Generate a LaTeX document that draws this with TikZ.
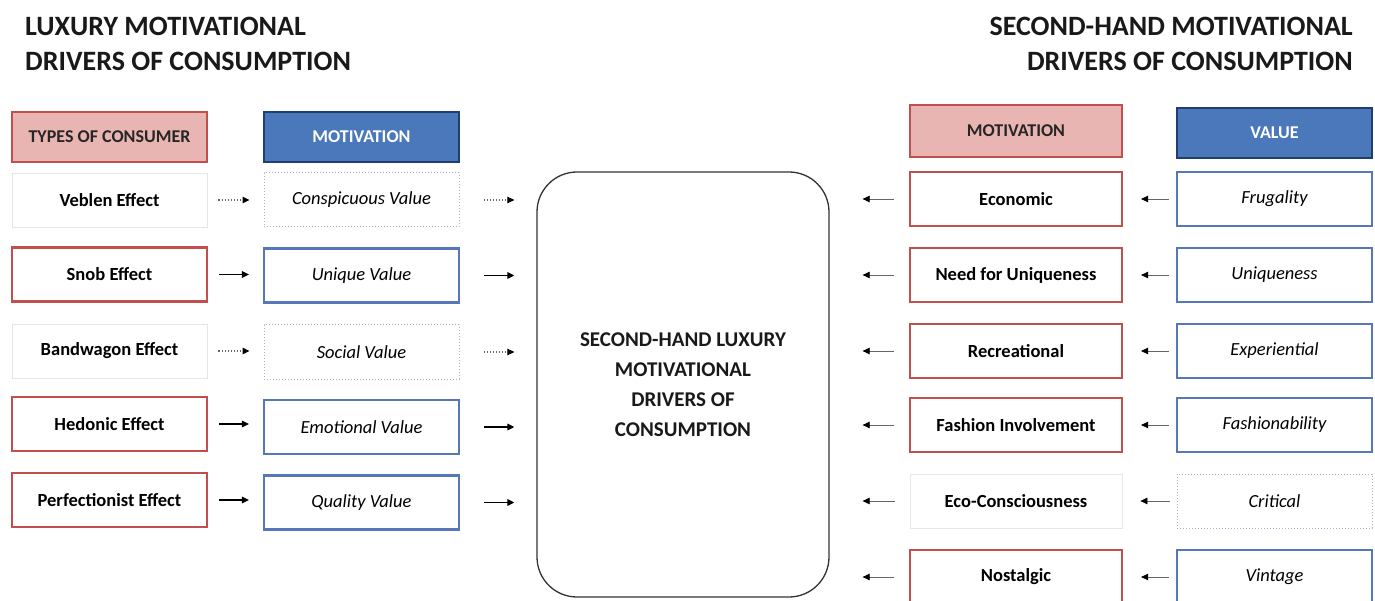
\documentclass[tikz,border=0pt]{standalone}
\usepackage{fontspec}
\setmainfont{Carlito}
\usetikzlibrary{arrows.meta}
\definecolor{boxred}{HTML}{C0504D}
\definecolor{pinkfill}{HTML}{E9B5B3}
\definecolor{bluefill}{HTML}{4A78BA}
\definecolor{darkblue}{HTML}{1F3F73}
\definecolor{boxblue}{HTML}{5677BC}
\definecolor{faint}{HTML}{E6E6E6}
\definecolor{faintblue}{HTML}{A8B4D0}
\tikzset{
  base/.style={rectangle, minimum height=54pt, inner sep=0pt, align=center},
  effbox/.style={base, minimum width=195pt, draw=boxred, line width=2.2pt, font=\fontsize{18.5}{20}\selectfont\bfseries},
  effweak/.style={base, minimum width=195pt, draw=faint, line width=0.8pt, font=\fontsize{18.5}{20}\selectfont\bfseries},
  valbox/.style={base, minimum width=195pt, draw=boxblue, line width=2.2pt, font=\fontsize{18.5}{20}\selectfont\itshape},
  valweak/.style={base, minimum width=195pt, draw=faintblue, dotted, line width=1pt, font=\fontsize{18.5}{20}\selectfont\itshape},
  hdrpink/.style={base, minimum height=50pt, fill=pinkfill, draw=boxred, line width=2.2pt, font=\fontsize{18}{20}\selectfont\bfseries, text=black!85},
  hdrblue/.style={base, minimum height=50pt, fill=bluefill, draw=darkblue, line width=2.2pt, font=\fontsize{18}{20}\selectfont\bfseries, text=white},
  title/.style={inner sep=0pt, font=\fontsize{28}{32}\selectfont\bfseries, text=black!90},
  arr/.style={line width=1.5pt, -{Triangle[length=7pt,width=6.5pt]}},
  arrdot/.style={line width=1.1pt, dotted, black!60, -{Triangle[length=7pt,width=6.5pt, black]}},
  arrthin/.style={line width=0.7pt, black!60, {Triangle[length=7pt,width=6.5pt,black]}-},
}
\begin{document}
\begin{tikzpicture}[x=1pt,y=-1pt]
\useasboundingbox (0,0) rectangle (1375,601);
% titles
\node[title, anchor=west] (tl1) at (25,26) {LUXURY MOTIVATIONAL};
\node[title, anchor=west] (tl2) at (25,61) {DRIVERS OF CONSUMPTION};
\node[title, anchor=east] (tr1) at (1353,26) {SECOND-HAND MOTIVATIONAL};
\node[title, anchor=east] (tr2) at (1353,61) {DRIVERS OF CONSUMPTION};
% left headers
\node[hdrpink, minimum width=195pt] (h1) at (109.5,137) {TYPES OF CONSUMER};
\node[hdrblue, minimum width=195pt] (h2) at (361.5,137) {MOTIVATION};
% left col 1
\node[effweak] (a1) at (109.5,200) {Veblen Effect};
\node[effbox]  (a2) at (109.5,274.5) {Snob Effect};
\node[effweak] (a3) at (109.5,351) {Bandwagon Effect};
\node[effbox]  (a4) at (109.5,424) {Hedonic Effect};
\node[effbox]  (a5) at (109.5,500) {Perfectionist Effect};
% left col 2
\node[valweak] (b1) at (361.5,200) {Conspicuous Value};
\node[valbox]  (b2) at (361.5,275.5) {Unique Value};
\node[valweak] (b3) at (361.5,352) {Social Value};
\node[valbox]  (b4) at (361.5,427) {Emotional Value};
\node[valbox]  (b5) at (361.5,502.5) {Quality Value};
% centre
\node[draw=black!80, line width=1.3pt, rounded corners=40pt, minimum width=292pt, minimum height=425pt, align=center, font=\fontsize{21}{30}\selectfont\bfseries, text=black!90] (c) at (683,384.5)
  {SECOND-HAND LUXURY\\MOTIVATIONAL\\DRIVERS OF\\CONSUMPTION};
% right headers
\node[hdrpink, minimum width=212pt, minimum height=52pt] (h3) at (1016,131) {MOTIVATION};
\node[hdrblue, minimum width=195pt] (h4) at (1274.5,133) {VALUE};
% right col 3
\node[effbox, minimum width=212pt] (d1) at (1016,199) {Economic};
\node[effbox, minimum width=212pt] (d2) at (1016,275) {Need for Uniqueness};
\node[effbox, minimum width=212pt] (d3) at (1016,351) {Recreational};
\node[effbox, minimum width=212pt] (d4) at (1016,425) {Fashion Involvement};
\node[effweak, minimum width=212pt] (d5) at (1016,501) {Eco-Consciousness};
\node[effbox, minimum width=212pt] (d6) at (1016,577) {Nostalgic};
% right col 4
\node[valbox] (e1) at (1274.5,199) {Frugality};
\node[valbox] (e2) at (1274.5,275) {Uniqueness};
\node[valbox] (e3) at (1274.5,351) {Experiential};
\node[valbox] (e4) at (1274.5,425) {Fashionability};
\node[valweak] (e5) at (1274.5,501) {Critical};
\node[valbox] (e6) at (1274.5,577) {Vintage};
% left arrows
\draw[arrdot] ([xshift=11pt]a1.east) -- ([xshift=-14pt]b1.west |- a1.east);
\draw[arr] ([xshift=11pt]a2.east) -- ([xshift=-14pt]b2.west |- a2.east);
\draw[arrdot] ([xshift=11pt]a3.east) -- ([xshift=-14pt]b3.west |- a3.east);
\draw[arr] ([xshift=11pt]a4.east) -- ([xshift=-14pt]b4.west |- a4.east);
\draw[arr] ([xshift=11pt]a5.east) -- ([xshift=-14pt]b5.west |- a5.east);
\draw[arrdot] ([xshift=24pt]b1.east) -- ([xshift=-22pt]c.west |- b1.east);
\draw[arr] ([xshift=24pt]b2.east) -- ([xshift=-22pt]c.west |- b2.east);
\draw[arrdot] ([xshift=24pt]b3.east) -- ([xshift=-22pt]c.west |- b3.east);
\draw[arr] ([xshift=24pt]b4.east) -- ([xshift=-22pt]c.west |- b4.east);
\draw[arr] ([xshift=24pt]b5.east) -- ([xshift=-22pt]c.west |- b5.east);
% right arrows
\foreach \i in {1,...,6} {
  \draw[arrthin] ([xshift=33pt]c.east |- d\i.west) -- ([xshift=-15pt]d\i.west);
  \draw[arrthin] ([xshift=18pt]d\i.east) -- ([xshift=-7pt]e\i.west);
}
\end{tikzpicture}
\end{document}
